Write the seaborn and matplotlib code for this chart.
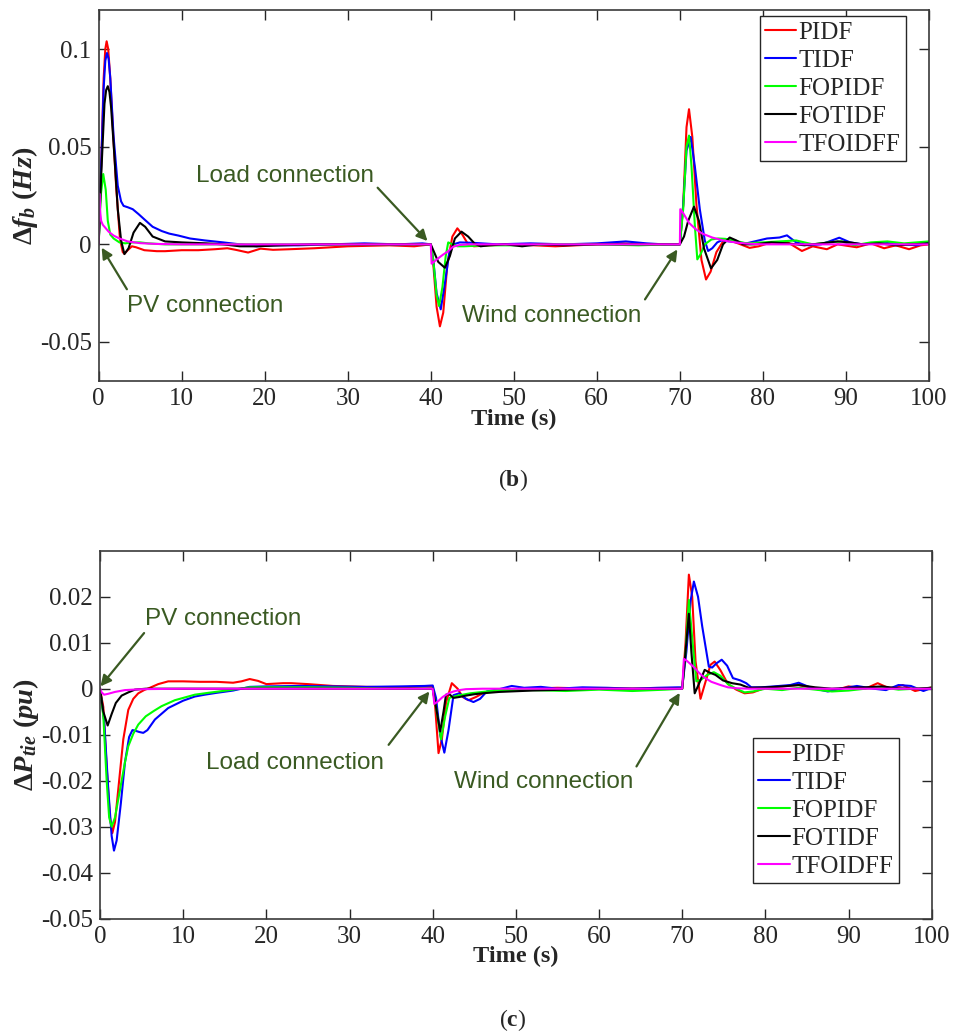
import numpy as np
import pandas as pd
import matplotlib
matplotlib.use("Agg")
import matplotlib.pyplot as plt
import seaborn as sns

# ---------------- data ----------------
controllers = ["PIDF", "TIDF", "FOPIDF", "FOTIDF", "TFOIDFF"]
line_colors = ["#ff0000", "#0000ff", "#00ff00", "#000000", "#ff00ff"]

# ---- panel (b): frequency deviation of area b ----
t_pidf_b = [0, 0.3, 0.6, 0.8, 0.96, 1.15, 1.4, 1.7, 2.1, 2.56, 2.9, 3.1, 3.5, 4.0, 4.5, 5.5, 7, 8, 10, 12, 14, 15.5, 16.5, 18, 19.5, 21, 23, 26, 30, 35, 38, 40, 40.3, 40.7, 41.1, 41.5, 42.0, 42.6, 43.2, 43.8, 44.5, 45.2, 47, 50, 55, 60, 63, 66, 69, 70, 70.4, 70.8, 71.1, 71.5, 72.0, 72.6, 73.15, 73.7, 74.4, 75.2, 76, 77, 78.4, 79.5, 81, 83, 84.7, 86, 87.7, 89, 91.3, 93, 94.6, 96, 97.6, 99, 100]
f_pidf_b = [0, 0.04, 0.085, 0.1, 0.104, 0.1, 0.085, 0.06, 0.03, 0.003, -0.004, -0.0048, -0.003, -0.001, -0.0015, -0.003, -0.0035, -0.0035, -0.003, -0.003, -0.0025, -0.002, -0.0028, -0.0042, -0.0022, -0.0028, -0.0025, -0.002, -0.001, -0.0005, -0.001, 0, -0.01, -0.032, -0.042, -0.035, -0.01, 0.004, 0.0082, 0.005, 0, -0.001, -0.0005, 0, -0.001, 0, 0.0005, 0, 0, 0, 0.02, 0.06, 0.0692, 0.055, 0.02, -0.008, -0.018, -0.014, -0.004, 0.0015, 0.002, 0.0005, -0.0018, -0.001, 0.001, 0.001, -0.0034, -0.001, -0.0025, 0, -0.0015, 0.0005, -0.002, -0.0005, -0.0025, -0.0005, 0]

t_tidf_b = [0, 0.3, 0.6, 0.8, 1.0, 1.2, 1.4, 1.8, 2.3, 2.7, 3.0, 3.5, 4.1, 4.8, 5.5, 6.5, 7.6, 8.5, 9.6, 11, 12.8, 15, 17, 19, 21, 24, 28, 32, 36, 39, 40, 40.3, 40.7, 41.2, 41.7, 42.2, 42.7, 43.5, 45, 48, 52, 56, 60, 63.5, 66, 68, 70, 70.4, 70.8, 71.3, 71.8, 72.4, 73.0, 73.4, 73.9, 74.5, 75, 76, 77, 78, 79, 80.5, 82, 82.9, 84, 85.5, 87, 88, 89.2, 90.5, 92, 94, 95.5, 97, 98.5, 100]
f_tidf_b = [0, 0.04, 0.08, 0.094, 0.098, 0.095, 0.085, 0.055, 0.03, 0.022, 0.0197, 0.019, 0.018, 0.0155, 0.0128, 0.009, 0.0068, 0.0055, 0.0045, 0.003, 0.002, 0.001, 0, -0.001, -0.0005, -0.0005, 0, 0.0005, 0, 0.0005, 0, -0.008, -0.025, -0.0333, -0.02, -0.005, 0, 0.001, 0.0008, 0, 0.0005, 0, 0.0005, 0.0015, 0.0005, 0, 0, 0.02, 0.048, 0.055, 0.04, 0.018, 0.002, -0.0034, -0.002, 0.001, 0.002, 0.0015, 0.001, 0.0005, 0.0015, 0.003, 0.0035, 0.0046, 0.001, -0.0005, 0, 0.0015, 0.0034, 0.001, 0, 0.001, 0.0005, 0, -0.0005, 0.001]

t_fopidf_b = [0, 0.25, 0.55, 0.85, 1.1, 1.4, 1.8, 2.5, 3.2, 4, 5, 6, 8, 12, 16, 20, 25, 30, 35, 40, 40.3, 40.7, 41.0, 41.4, 41.8, 42.1, 42.6, 43.2, 44, 45, 47, 50, 55, 60, 65, 69, 70, 70.4, 70.8, 71.1, 71.4, 71.8, 72.1, 72.5, 73.0, 73.8, 74.6, 75.5, 76.5, 78, 80, 82, 84, 86, 88, 89.5, 91, 93, 95, 97, 98.5, 100]
f_fopidf_b = [0, 0.025, 0.036, 0.028, 0.012, 0.005, 0.003, 0.001, 0.0005, 0.001, 0.001, 0.0005, 0, 0, 0, 0, 0, 0, 0, 0, -0.008, -0.026, -0.0316, -0.022, -0.006, 0.001, 0, -0.001, -0.001, -0.0008, -0.0005, -0.0005, 0, 0, -0.0005, 0, 0, 0.018, 0.05, 0.0557, 0.04, 0.01, -0.0077, -0.005, 0.0, 0.0025, 0.003, 0.0028, 0.002, 0.0005, 0.001, 0.0015, 0.002, 0, 0.001, 0.0015, -0.0005, 0.001, 0.0015, 0.0005, 0.001, 0.0015]

t_fotidf_b = [0, 0.3, 0.7, 0.9, 1.1, 1.3, 1.5, 1.9, 2.3, 2.7, 3.1, 3.6, 4.2, 4.97, 5.6, 6.5, 8, 10, 13, 15, 17, 19, 22, 26, 30, 35, 38, 40, 40.4, 40.9, 41.7, 42.3, 42.9, 43.7, 44.5, 45.3, 46, 47, 49, 51, 53, 56, 60, 64, 67, 70, 70.5, 71.0, 71.7, 72.3, 72.9, 73.75, 74.5, 75.2, 76.0, 76.8, 77.6, 79, 81, 83, 85, 87, 89, 90.5, 92, 94, 96, 98, 100]
f_fotidf_b = [0, 0.035, 0.072, 0.079, 0.081, 0.078, 0.07, 0.045, 0.018, 0.002, -0.005, -0.002, 0.006, 0.011, 0.009, 0.004, 0.0015, 0.001, 0.0005, 0, -0.001, -0.001, -0.0005, 0, 0, 0, 0, 0, -0.004, -0.009, -0.012, -0.006, 0.003, 0.0065, 0.004, 0.0003, -0.001, -0.0005, 0, -0.001, 0, -0.0005, 0, 0, 0, 0, 0.004, 0.012, 0.0193, 0.012, -0.002, -0.0123, -0.008, 0.0, 0.0035, 0.002, 0.0, 0, 0.001, 0.0005, -0.0005, 0.0005, 0.0015, 0.001, 0, 0.0005, -0.0005, 0, 0.0005]

t_tfoidff_b = [0, 0.08, 0.15, 0.3, 0.5, 0.8, 1.2, 1.8, 2.5, 3.5, 5, 7, 10, 20, 30, 40, 40.1, 40.5, 41, 41.5, 42, 42.7, 43.5, 44.5, 50, 60, 70, 70.05, 70.4, 71.1, 71.9, 72.7, 73.9, 75.2, 76.7, 78, 80, 90, 100]
f_tfoidff_b = [0, 0.026, 0.018, 0.012, 0.01, 0.0085, 0.0065, 0.0045, 0.003, 0.0015, 0.0006, 0.0002, 0, 0, 0, 0, -0.0099, -0.0085, -0.0068, -0.0052, -0.0038, -0.0012, -0.0003, 0, 0, 0, 0, 0.018, 0.016, 0.011, 0.0078, 0.0055, 0.0035, 0.002, 0.001, 0.0004, 0, 0, 0]

# ---- panel (c): tie-line power deviation ----
t_pidf_c = [0, 0.4, 0.8, 1.2, 1.48, 1.8, 2.3, 2.8, 3.4, 4.0, 4.6, 5.3, 6.0, 7, 8.2, 10, 12, 14, 16, 17, 18, 19, 20, 22, 23, 25, 28, 32, 36, 39, 40, 40.3, 40.7, 41.1, 41.6, 42.3, 43.0, 43.6, 44.3, 45.2, 46.2, 48, 51, 55, 60, 65, 69, 70, 70.4, 70.8, 71.2, 71.6, 72.2, 72.8, 73.4, 73.9, 74.6, 75.5, 76.5, 77.5, 78.5, 80, 82, 84, 86, 88, 90, 92, 93.5, 95, 96.5, 98, 100]
p_pidf_c = [0, -0.004, -0.017, -0.028, -0.0314, -0.029, -0.02, -0.011, -0.0046, -0.0022, -0.001, -0.0003, 0.0002, 0.001, 0.0016, 0.0016, 0.0015, 0.0015, 0.0013, 0.0016, 0.0021, 0.0017, 0.001, 0.0012, 0.0012, 0.001, 0.0006, 0.0004, 0.0003, 0.0005, 0.0005, -0.004, -0.014, -0.011, -0.003, 0.0012, 0.0, -0.0018, -0.0025, -0.0018, -0.0008, -0.0003, 0, 0.0002, 0, 0, 0, 0, 0.01, 0.0248, 0.02, 0.006, -0.0022, 0.0015, 0.0052, 0.0059, 0.004, 0.001, -0.0002, -0.001, -0.0008, 0.0002, 0.0005, 0.0008, 0, -0.0005, 0.0005, 0, 0.0012, 0, 0.0008, -0.0005, 0.0003]

t_tidf_c = [0, 0.5, 1.0, 1.4, 1.68, 2.0, 2.5, 3.0, 3.5, 3.9, 4.2, 4.7, 5.2, 5.7, 6.6, 8.2, 10, 11.4, 12.6, 14, 16, 18, 20, 24, 28, 32, 36, 39, 40, 40.4, 40.9, 41.4, 41.9, 42.5, 43.2, 44.0, 44.9, 45.7, 46.5, 48, 49.5, 51, 53, 55, 58, 61, 64, 67, 69.5, 70, 70.5, 71.0, 71.4, 71.9, 72.4, 73.2, 73.6, 74.1, 74.75, 75.4, 76.1, 77, 77.7, 78.3, 79.5, 81, 83, 84, 85.5, 87.5, 89, 91, 93, 94.5, 96, 97.5, 99, 100]
p_tidf_c = [0, -0.007, -0.022, -0.032, -0.0352, -0.033, -0.025, -0.016, -0.0105, -0.009, -0.0091, -0.0094, -0.0096, -0.009, -0.0067, -0.0042, -0.0026, -0.0017, -0.0013, -0.0009, -0.0004, 0.0004, 0.0005, 0.0006, 0.0005, 0.0004, 0.0005, 0.0006, 0.0007, -0.002, -0.01, -0.0139, -0.009, -0.0014, -0.001, -0.0022, -0.0029, -0.0022, -0.0006, -0.0001, 0.0006, 0.0002, 0.0004, 0.0, 0.0003, 0.0002, 0, 0.0002, 0.0003, 0.0003, 0.008, 0.019, 0.0233, 0.02, 0.0136, 0.0048, 0.0046, 0.0055, 0.0063, 0.005, 0.0023, 0.0018, 0.0012, 0.0003, 0.0003, 0.0005, 0.0008, 0.0013, 0.0002, -0.0006, 0.0, 0.0006, 0.0, -0.0003, 0.0008, 0.0006, -0.0005, 0.0002]

t_fopidf_c = [0, 0.4, 0.8, 1.1, 1.4, 1.8, 2.4, 3.0, 3.4, 4.0, 4.6, 5.5, 6.5, 7.4, 9, 11.4, 13, 16, 18, 20, 25, 30, 35, 39, 40, 40.4, 41.0, 41.5, 42.0, 43.0, 44.5, 46, 48, 52, 56, 60, 64, 68, 70, 70.4, 70.8, 71.2, 71.7, 72.3, 73.0, 73.8, 74.6, 75.5, 76.5, 77.5, 78.5, 80, 82, 84, 86, 88, 90, 92, 94, 96, 98, 100]
p_fopidf_c = [0, -0.006, -0.02, -0.028, -0.030, -0.028, -0.022, -0.016, -0.0125, -0.0098, -0.0078, -0.006, -0.0048, -0.0038, -0.0025, -0.0013, -0.0009, -0.0002, 0.0003, 0.0003, 0.0003, 0.0002, 0.0, 0.0, 0.0, -0.004, -0.011, -0.006, -0.002, -0.0015, -0.001, -0.0007, -0.0003, -0.0003, -0.0005, -0.0002, -0.0005, -0.0002, 0, 0.008, 0.0193, 0.011, 0.0016, 0.002, 0.003, 0.0036, 0.0028, 0.001, 0.0, -0.0008, -0.0006, 0.0, -0.0003, 0.0002, -0.0002, -0.0006, -0.0004, 0.0, 0.0003, -0.0002, 0.0, 0.0002]

t_fotidf_c = [0, 0.4, 0.92, 1.4, 1.9, 2.6, 3.4, 4.2, 5.5, 8, 12, 20, 30, 39, 40, 40.4, 40.9, 41.3, 41.6, 42.0, 42.5, 43.2, 44.0, 45, 46, 48, 52, 56, 60, 65, 69, 70, 70.4, 70.8, 71.1, 71.5, 72.0, 72.7, 73.3, 74.0, 74.9, 76, 77, 78, 80, 82, 84, 86, 88, 90, 92, 94, 96, 98, 100]
p_fotidf_c = [0, -0.005, -0.008, -0.0055, -0.0031, -0.0015, -0.0008, -0.0002, 0, 0, 0, 0, 0, 0, 0, -0.004, -0.0093, -0.005, -0.0013, -0.0012, -0.002, -0.0018, -0.0015, -0.0012, -0.001, -0.0007, -0.0004, -0.0002, 0, 0, 0, 0, 0.008, 0.0163, 0.008, -0.001, 0.001, 0.0041, 0.0035, 0.003, 0.0018, 0.0012, 0.0009, 0.0002, 0.0003, 0.0005, 0.0008, 0.0003, 0.0, 0.0002, 0.0003, 0.0005, 0.0001, 0.0, 0.0002]

t_tfoidff_c = [0, 0.2, 0.5, 1.0, 1.8, 3.0, 5, 10, 20, 30, 40, 40.2, 40.6, 41.2, 41.8, 42.5, 43.2, 44, 46, 50, 60, 70, 70.2, 70.6, 71.4, 72.0, 72.6, 73.5, 74.6, 75.5, 76.5, 78, 80, 90, 100]
p_tfoidff_c = [0, -0.0008, -0.0013, -0.0011, -0.0007, -0.0003, -0.0001, 0, 0, 0, 0, -0.0033, -0.0028, -0.0018, -0.0011, -0.0006, -0.0003, -0.0001, 0, 0, 0, 0, 0.0065, 0.006, 0.0047, 0.0035, 0.0025, 0.0015, 0.0008, 0.0003, 0.0001, 0, 0, 0, 0]

x_ticks = [0, 10, 20, 30, 40, 50, 60, 70, 80, 90, 100]
x_tick_labels = ["0", "10", "20", "30", "40", "50", "60", "70", "80", "90", "100"]
yb_ticks = [-0.05, 0, 0.05, 0.1]
yb_tick_labels = ["-0.05", "0", "0.05", "0.1"]
yc_ticks = [-0.05, -0.04, -0.03, -0.02, -0.01, 0, 0.01, 0.02]
yc_tick_labels = ["-0.05", "-0.04", "-0.03", "-0.02", "-0.01", "0", "0.01", "0.02"]

# annotations: (text, text position, arrow start, arrow tip) in data coords
notes_b = [
    ("Load connection", (11.7, 0.0349), (33.6, 0.0290), (39.6, 0.0017)),
    ("PV connection", (3.4, -0.0316), (3.4, -0.0230), (0.36, -0.0017)),
    ("Wind connection", (43.8, -0.0368), (65.8, -0.0282), (69.7, -0.0026)),
]
notes_c = [
    ("PV connection", (5.4, 0.0152), (5.3, 0.0121), (0.05, 0.0005)),
    ("Load connection", (12.8, -0.0162), (34.7, -0.0122), (39.6, -0.0006)),
    ("Wind connection", (42.6, -0.0202), (64.5, -0.0169), (69.7, -0.0009)),
]


def long_frame(ts, vs):
    rows = []
    for name, t, v in zip(controllers, ts, vs):
        rows.append(pd.DataFrame({"t": t, "v": v, "controller": name}))
    return pd.concat(rows, ignore_index=True)


df_b = long_frame([t_pidf_b, t_tidf_b, t_fopidf_b, t_fotidf_b, t_tfoidff_b],
                  [f_pidf_b, f_tidf_b, f_fopidf_b, f_fotidf_b, f_tfoidff_b])
df_c = long_frame([t_pidf_c, t_tidf_c, t_fopidf_c, t_fotidf_c, t_tfoidff_c],
                  [p_pidf_c, p_tidf_c, p_fopidf_c, p_fotidf_c, p_tfoidff_c])

# ---------------- style ----------------
sns.set_theme(style="ticks")
plt.rcParams.update({
    "font.family": ["Liberation Serif", "DejaVu Serif"],
    "axes.unicode_minus": False,
    "mathtext.fontset": "custom",
    "mathtext.rm": "Liberation Serif:bold",
    "mathtext.it": "Liberation Serif:italic:bold",
    "mathtext.bf": "Liberation Serif:bold",
    "mathtext.sf": "Liberation Serif",
    "xtick.direction": "in",
    "ytick.direction": "in",
    "axes.edgecolor": "#262626",
    "axes.linewidth": 1.2,
})

ann_color = "#3a5a22"
palette = dict(zip(controllers, line_colors))

fig = plt.figure(figsize=(9.57, 10.34), dpi=100)
ax_b = fig.add_axes([0.1031, 0.6315, 0.8676, 0.3588])
ax_c = fig.add_axes([0.1045, 0.1115, 0.8691, 0.3559])


def draw(ax, df, ylim, yticks, ylabels, ylabel, notes, leg_loc, leg_anchor, xpad):
    sns.lineplot(data=df, x="t", y="v", hue="controller", hue_order=controllers,
                 palette=palette, estimator=None, sort=False, linewidth=1.5,
                 legend=False, ax=ax)
    ax.set_xlim(0, 100)
    ax.set_ylim(*ylim)
    ax.set_xticks(x_ticks)
    ax.set_xticklabels(x_tick_labels)
    ax.set_yticks(yticks)
    ax.set_yticklabels(ylabels)
    ax.tick_params(axis="both", which="both", direction="in", top=True, right=True,
                   length=7, width=1.0, labelsize=18, colors="#262626", pad=5)
    for s in ax.spines.values():
        s.set_visible(True)
        s.set_color("#3a3a3a")
        s.set_linewidth(1.2)
    ax.set_xlabel("Time (s)", fontsize=17.5, fontweight="bold", labelpad=xpad)
    ax.set_ylabel(ylabel, fontsize=20.5, labelpad=0)
    handles = ax.lines[:5]
    leg = ax.legend(handles, controllers, loc=leg_loc, bbox_to_anchor=leg_anchor,
                    borderaxespad=0, fontsize=18, handlelength=1.25,
                    handletextpad=0.08, labelspacing=0.22, borderpad=0.22,
                    fancybox=False, framealpha=1, edgecolor="#262626")
    leg.get_frame().set_linewidth(1.0)
    for txt, tpos, a0, a1 in notes:
        ax.text(tpos[0], tpos[1], txt, fontsize=17.5, color=ann_color,
                family=["Liberation Sans", "DejaVu Sans"], va="center", ha="left")
        ax.annotate("", xy=a1, xytext=a0,
                    arrowprops=dict(arrowstyle="-|>", color=ann_color, lw=1.6,
                                    mutation_scale=16, shrinkA=0, shrinkB=0))


draw(ax_b, df_b, (-0.07, 0.12), yb_ticks, yb_tick_labels,
     r"$\Delta f_b\ (Hz)$", notes_b, "upper right", (0.972, 0.984), -1)
draw(ax_c, df_c, (-0.05, 0.03), yc_ticks, yc_tick_labels,
     r"$\Delta P_{tie}\ (pu)$", notes_c, "lower right", (0.9607, 0.097), -1)

fig.text(0.536, 0.5358, r"$\mathsf{(}\mathbf{b}\mathsf{)}$", ha="center", va="center", fontsize=17)
fig.text(0.536, 0.0135, r"$\mathsf{(}\mathbf{c}\mathsf{)}$", ha="center", va="center", fontsize=17)

fig.savefig("out.png", dpi=100)
